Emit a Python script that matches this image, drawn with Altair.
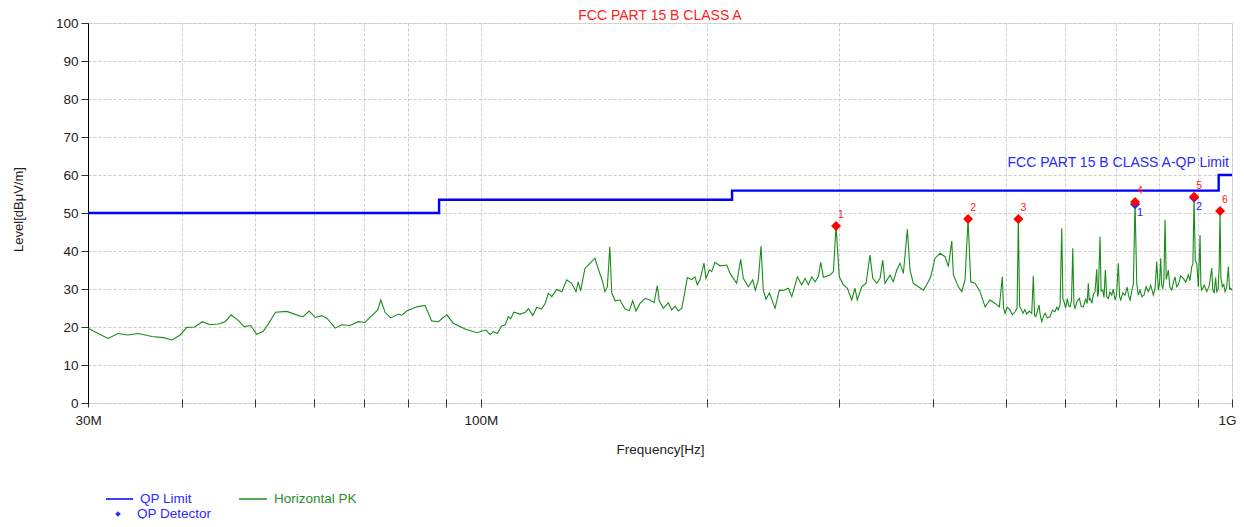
import altair as alt
import pandas as pd

FONT = "Liberation Sans"

# Horizontal PK trace (frequency in MHz, level in dBuV/m)
pk_freq = [30.0, 31.0, 31.9, 32.9, 33.9, 35.0, 36.5, 37.8, 38.8, 39.8, 40.6, 41.6, 42.6, 43.6, 44.7, 45.7, 46.5, 47.6,
           48.4, 49.4, 50.3, 51.3, 52.1, 53.3, 55.2, 57.2, 58.0, 59.1, 60.2, 61.4, 62.4, 64.0, 65.3, 67.0, 68.7, 70.1,
           71.6, 72.9, 73.6, 74.6, 75.9, 77.7, 78.5, 79.7, 82.2, 84.3, 86.0, 87.8, 90.1, 91.9, 95.3,
           98.8, 101.6, 102.9, 103.9, 105.2, 106.6, 107.7, 108.8, 109.6, 110.7, 112.8, 114.5, 115.7, 117.3, 118.7,
           120.5, 121.8, 123.0, 124.3, 126.2, 128.2, 130.1, 132.1, 133.9, 134.8, 135.8, 137.6, 139.8, 141.9, 143.4,
           145.3, 146.3, 147.4, 148.5, 149.4, 150.9, 153.2, 155.6, 157.7, 159.3, 160.9, 162.9, 165.4, 168.0, 170.1,
           171.8, 172.8, 175.0, 177.7, 179.5, 181.4, 183.2, 185.1, 186.6, 188.3, 190.9, 192.8, 194.2, 195.8, 198.2,
           199.4, 201.5, 203.0, 205.0, 208.2, 212.5, 214.7, 216.9, 219.1, 221.8, 223.6, 227.1, 230.1, 232.0, 234.1,
           236.1, 237.7, 239.7, 242.2,
           246.4, 249.7, 252.8, 256.7, 259.4, 263.9, 267.4, 270.2, 272.9, 275.8, 278.6, 281.4, 283.5, 285.8, 291.7,
           294.7, 297.1, 300.1, 303.8, 307.6, 311.7, 314.9, 317.1, 321.5, 325.7, 329.7, 332.5, 336.6, 340.0, 342.8,
           345.2, 350.6, 354.1, 357.9, 361.5, 365.2, 369.7, 372.7, 376.5, 382.4, 388.3, 392.3, 397.2, 402.4, 408.7,
           415.0, 419.2, 423.6, 425.7, 432.2, 436.8, 441.2, 445.3, 449.0, 454.9, 462.0, 469.1, 476.3, 483.7, 490.1,
           494.6, 496.5, 498.8, 502.0, 506.5, 510.0, 514.3, 517.5, 519.5, 521.5, 523.3, 527.0, 530.0, 533.1, 537.0,
           541.3, 543.9, 546.0, 548.0, 550.5, 553.5, 555.5, 558.1, 561.0, 563.8, 567.5, 572.5, 576.5, 581.4, 584.5,
           587.3, 590.5, 593.4, 595.5, 597.6, 600.5, 603.7, 606.0, 608.7, 611.5, 613.8, 616.0, 618.1, 622.0, 626.3,
           630.0, 634.0, 638.5, 641.5, 643.8, 645.5, 647.2, 651.0, 654.0, 657.2, 660.6, 662.2, 663.9, 667.3, 669.5,
           672.9, 675.5, 678.3, 681.0, 684.5, 688.0, 691.7, 695.0, 698.7, 702.0, 705.8, 708.5, 711.1, 715.5, 720.5,
           725.0, 728.5, 731.6, 735.5, 739.1, 742.9, 746.8, 750.5, 754.4, 758.5, 763.7, 768.5, 773.8, 779.5, 785.8,
           790.0, 794.0, 797.9, 800.8, 803.8, 806.0, 808.8, 811.5, 814.5, 817.5, 822.8, 826.5, 831.4, 835.5, 839.8,
           844.0, 848.4, 854.5, 861.5, 868.0, 874.8, 879.0, 883.9, 887.0, 890.2, 893.5, 897.6, 902.0, 906.7, 909.0,
           911.4, 918.5, 925.5, 932.5, 939.8, 943.0, 947.0, 951.0, 954.3, 958.5, 961.5, 964.0, 966.5, 970.9, 975.0,
           978.9, 984.0, 988.9, 992.5, 996.2, 1000.0]
pk_level = [19.7, 18.2, 17.0, 18.3, 17.9, 18.3, 17.5, 17.2, 16.6, 17.9, 19.9, 20.0, 21.4, 20.6, 20.8, 21.4, 23.2, 21.7,
            20.1, 20.4, 18.1, 18.8, 20.7, 23.9, 24.1, 23.0, 22.7, 24.2, 22.5, 23.0, 22.3, 19.7, 20.6, 20.4, 21.4, 21.2,
            23.0, 24.5, 27.1, 23.8, 22.4, 23.4, 23.1, 24.2, 25.3, 25.7, 21.6, 21.4, 23.2, 21.0, 19.5,
            18.5, 19.2, 18.0, 18.8, 18.3, 20.3, 20.5, 22.7, 22.2, 23.9, 23.4, 23.8, 24.8, 23.0, 25.2,
            24.7, 26.2, 28.9, 28.0, 29.9, 29.3, 32.4, 31.5, 29.3, 31.9, 29.5, 35.4, 36.8, 38.1, 35.2,
            31.9, 29.3, 30.6, 41.1, 29.0, 26.9, 27.1, 24.7, 24.3, 26.9, 24.2, 26.2, 27.5, 27.1, 26.4,
            30.9, 26.9, 24.9, 26.4, 24.5, 25.5, 24.2, 24.9, 28.4, 33.0, 32.5, 33.2, 31.1, 32.4, 36.8,
            32.8, 35.0, 34.6, 37.0, 36.1, 36.3, 34.1, 32.8, 31.5, 37.8, 32.8, 30.6, 32.4, 29.7, 32.4,
            41.3, 29.7, 27.3, 29.0,
            24.9, 29.7, 29.6, 30.2, 28.0, 33.2, 31.1, 32.8, 31.1, 33.2, 31.9, 33.2, 37.0, 33.1, 33.7,
            34.6, 46.6, 33.2, 31.1, 30.2, 27.1, 30.2, 27.1, 30.6, 31.5, 38.9, 32.8, 31.5, 32.8, 37.6,
            31.5, 33.7, 31.9, 35.0, 36.8, 34.1, 45.7, 35.0, 31.5, 30.6, 29.7, 31.1, 33.2, 38.1, 39.4,
            38.5, 35.9, 42.6, 33.7, 30.6, 29.3, 32.4, 48.4, 31.9, 31.5, 29.3, 25.3, 27.1, 26.2, 25.3,
            33.2, 25.0, 23.6, 25.2, 24.5, 23.2, 24.0, 25.0, 48.4, 25.5, 24.9, 23.6, 24.6, 23.4, 24.2,
            23.6, 33.4, 23.0, 22.7, 24.0, 25.8, 23.2, 21.4, 22.8, 23.6, 22.4, 22.7, 24.4, 24.0, 25.2,
            24.5, 26.0, 46.0, 27.4, 26.7, 25.0, 27.5, 25.6, 25.3, 27.0, 40.7, 26.0, 24.9, 26.8, 27.5,
            25.4, 25.3, 27.3, 26.2, 31.5, 27.0, 27.5, 26.4, 28.6, 29.3, 35.2, 28.0, 28.9, 43.8, 29.5,
            29.7, 27.8, 35.0, 28.0, 27.5, 29.2, 28.4, 30.0, 27.1, 28.5, 36.8, 28.0, 27.1, 29.0, 28.4,
            30.5, 28.2, 27.1, 29.4, 31.5, 52.9, 31.5, 28.4, 29.7, 28.0, 28.4, 30.6, 29.3, 31.0, 28.4,
            30.2, 37.2, 29.7, 31.6, 38.1, 31.0, 30.2, 32.0, 48.2, 32.5, 35.0, 30.5, 29.7, 31.8, 33.2,
            30.6, 31.1, 33.5, 32.8, 31.8, 33.7, 32.2, 35.9, 36.5, 54.2, 37.5, 36.8, 30.5, 44.2, 31.0,
            29.7, 31.0, 29.3, 30.8, 35.5, 29.6, 29.1, 33.0, 29.3, 30.0, 36.0, 50.5, 33.0, 30.6, 31.2,
            29.3, 30.5, 35.9, 30.0, 30.2, 29.7]

# QP limit (step)
limit_freq = [30, 88, 216, 960, 1000]
limit_level = [50.0, 53.5, 55.9, 60.0, 60.0]

# Peak markers (red) and QP detector results (blue)
peak_freq = [297.1, 445.3, 519.5, 742.9, 890.2, 964.0]
peak_level = [46.6, 48.4, 48.4, 52.9, 54.3, 50.5]
peak_label = ["1", "2", "3", "4", "5", "6"]
qp_freq = [742.9, 890.2]
qp_level = [52.3, 54.0]
qp_label = ["1", "2"]

x_ticks = [30, 40, 50, 60, 70, 80, 90, 100, 200, 300, 400, 500, 600, 700, 800, 900, 1000]
y_ticks = [0, 10, 20, 30, 40, 50, 60, 70, 80, 90, 100]

title_text = "FCC PART 15 B CLASS A"
limit_text = "FCC PART 15 B CLASS A-QP Limit"

W, H = 1144, 380

x_enc = alt.X(
    "f:Q",
    scale=alt.Scale(type="log", domain=[30, 1000], nice=False),
    axis=alt.Axis(
        values=x_ticks,
        labelExpr="datum.value == 30 ? '30M' : datum.value == 100 ? '100M' : datum.value == 1000 ? '1G' : ''",
        labelOverlap=False,
        labelFlush=False,
        labelAlign={"condition": {"test": "datum.value == 1000", "value": "right"}, "value": "center"},
        labelOffset={"condition": {"test": "datum.value == 1000", "value": 4}, "value": 0},
        domain=False,
        offset=-4,
        tickSize=8,
        tickColor="#333333",
        labelPadding=6,
        labelFontSize=13.5,
        labelColor="#222222",
        labelFont=FONT,
        grid=True,
        gridColor="#cccccc",
        gridDash=[3, 2],
        title="Frequency[Hz]",
        titleFont=FONT,
        titleFontSize=13.5,
        titleFontWeight="normal",
        titleColor="#222222",
        titlePadding=16,
    ),
)
y_enc = alt.Y(
    "v:Q",
    scale=alt.Scale(domain=[0, 100], nice=False),
    axis=alt.Axis(
        values=y_ticks,
        domainColor="#000000",
        tickColor="#333333",
        tickSize=7,
        labelPadding=3,
        labelFontSize=13.5,
        labelColor="#222222",
        labelFont=FONT,
        grid=True,
        gridColor="#cccccc",
        gridDash=[3, 2],
        title="Level[dBμV/m]",
        titleFont=FONT,
        titleFontSize=13,
        titleFontWeight="normal",
        titleColor="#222222",
        titleX=-70,
        titleY=186,
        titleAngle=-90,
        titleAlign="center",
        titleBaseline="middle",
    ),
)

df_pk = pd.DataFrame({"f": pk_freq, "v": pk_level})
df_lim = pd.DataFrame({"f": limit_freq, "v": limit_level})
df_peak = pd.DataFrame({"f": peak_freq, "v": peak_level, "t": peak_label})
df_qp = pd.DataFrame({"f": qp_freq, "v": qp_level, "t": qp_label})
df_limlab = pd.DataFrame({"f": [limit_freq[-1]], "v": [limit_level[-1]], "t": [limit_text]})

pk_line = alt.Chart(df_pk).mark_line(color="#1a8c1a", strokeWidth=1.1).encode(x=x_enc, y=y_enc)
lim_line = alt.Chart(df_lim).mark_line(interpolate="step-after", color="#0000ff", strokeWidth=2.4).encode(x=x_enc, y=y_enc)
qp_pts = alt.Chart(df_qp).mark_point(shape="diamond", filled=True, size=100, color="#2a2aff", opacity=1).encode(x=x_enc, y=y_enc)
peak_pts = alt.Chart(df_peak).mark_point(shape="diamond", filled=True, size=100, color="#ff0000", opacity=1).encode(x=x_enc, y=y_enc)
peak_txt = alt.Chart(df_peak).mark_text(color="#ff2020", font=FONT, fontSize=10.5, dx=5, dy=-11).encode(x=x_enc, y=y_enc, text="t:N")
qp_txt = alt.Chart(df_qp).mark_text(color="#2020ff", font=FONT, fontSize=11, dx=5, dy=9).encode(x=x_enc, y=y_enc, text="t:N")
lim_txt = alt.Chart(df_limlab).mark_text(color="#2a2aff", font=FONT, fontSize=14, align="right", dx=-3, dy=-12).encode(x=x_enc, y=y_enc, text="t:N")

one = pd.DataFrame({"a": [0]})
title_mark = alt.Chart(one).mark_text(text=title_text, color="#ff2020", font=FONT, fontSize=14, align="center", baseline="alphabetic").encode(
    x=alt.value(W / 2), y=alt.value(-3.5))

# manual legend
leg_lim_line = alt.Chart(one).mark_rule(color="#0000ff", strokeWidth=1.5).encode(x=alt.value(18), x2=alt.value(45), y=alt.value(476))
leg_lim_txt = alt.Chart(one).mark_text(text="QP Limit", color="#2a2aff", font=FONT, fontSize=13.5, align="left", baseline="alphabetic").encode(
    x=alt.value(52), y=alt.value(480))
leg_pk_line = alt.Chart(one).mark_rule(color="#1a8c1a", strokeWidth=1.5).encode(x=alt.value(151), x2=alt.value(179), y=alt.value(476))
leg_pk_txt = alt.Chart(one).mark_text(text="Horizontal PK", color="#2a8f2a", font=FONT, fontSize=13.5, align="left", baseline="alphabetic").encode(
    x=alt.value(186), y=alt.value(480))
leg_qp_pt = alt.Chart(one).mark_point(shape="diamond", filled=True, size=30, color="#2a2aff", opacity=1).encode(x=alt.value(30), y=alt.value(491))
leg_qp_txt = alt.Chart(one).mark_text(text="QP Detector", color="#2a2aff", font=FONT, fontSize=13.5, align="left", baseline="alphabetic").encode(
    x=alt.value(49), y=alt.value(494.5))

chart = alt.layer(
    pk_line, lim_line, qp_pts, peak_pts, peak_txt, qp_txt, lim_txt, title_mark,
    leg_lim_line, leg_lim_txt, leg_pk_line, leg_pk_txt, leg_qp_pt, leg_qp_txt,
).properties(
    width=W, height=H,
    autosize=alt.AutoSizeParams(type="none"),
    padding={"left": 80, "top": 15, "right": 4, "bottom": 116},
).configure_view(stroke=None).configure(background="white")

chart.save("out.html", embed_options={"renderer": "svg", "actions": False})
